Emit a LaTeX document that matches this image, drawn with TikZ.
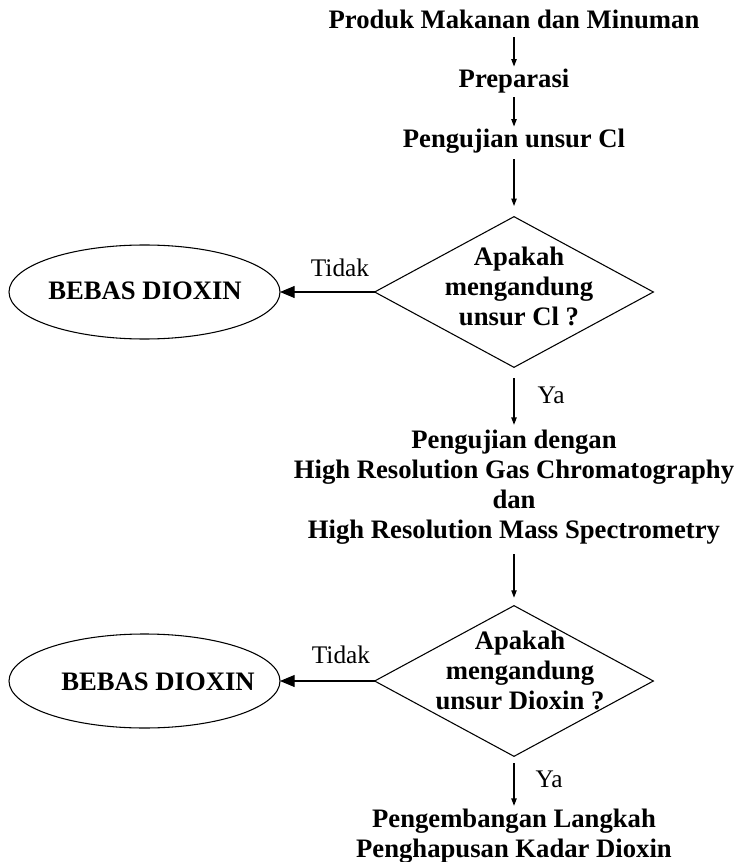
\documentclass[tikz,border=0pt]{standalone}
\usepackage{fontspec}
\setmainfont{Liberation Serif}
\usetikzlibrary{arrows.meta,shapes.geometric}
\begin{document}
\begin{tikzpicture}[x=0.75pt,y=-0.75pt,
  lbl/.style={font=\fontsize{20}{22.5}\selectfont\bfseries, inner sep=0pt, outer sep=0pt, align=center},
  note/.style={font=\fontsize{19}{22}\selectfont, inner sep=0pt},
  dia/.style={draw, diamond, minimum width=209pt, minimum height=113pt, inner sep=0pt, outer sep=0pt, line width=0.8pt},
  ell/.style={draw, ellipse, minimum width=203.25pt, minimum height=70.5pt, inner sep=0pt, outer sep=0pt, line width=0.8pt},
  arr/.style={-{Triangle[length=5.5pt,width=4pt]}, line width=0.8pt},
  bigarr/.style={-{Triangle[length=11pt,width=9pt]}, line width=0.8pt}]
\useasboundingbox (0,0) rectangle (740,862);

\node[lbl, anchor=base] (p1) at (514,29) {Produk Makanan dan Minuman};
\node[lbl, anchor=base] (p2) at (514,88) {Preparasi};
\node[lbl, anchor=base] (p3) at (514,148) {Pengujian unsur Cl};

\node[dia] (d1) at (514,292) {};
\node[lbl] (d1t) at (519,286) {Apakah\\mengandung\\unsur Cl ?};
\node[ell] (e1) at (144.5,292) {};
\node[lbl, anchor=base] (e1t) at (145,300) {BEBAS DIOXIN};
\node[note, anchor=base] (t1) at (340,277) {Tidak};
\node[note, anchor=base] (y1) at (551,403) {Ya};

\node[lbl] (p4) at (514,487) {Pengujian dengan\\High Resolution Gas Chromatography\\dan\\High Resolution Mass Spectrometry};

\node[dia] (d2) at (514,681) {};
\node[lbl] (d2t) at (520,670) {Apakah\\mengandung\\unsur Dioxin ?};
\node[ell] (e2) at (144.5,681) {};
\node[lbl, anchor=base] (e2t) at (158,690) {BEBAS DIOXIN};
\node[note, anchor=base] (t2) at (341,663) {Tidak};
\node[note, anchor=base] (y2) at (549,787) {Ya};

\node[lbl] (p5) at (514,836) {Pengembangan Langkah\\Penghapusan Kadar Dioxin};

\draw[arr, shorten <=6pt, shorten >=2.25pt] (p1) -- (p2);
\draw[arr, shorten <=2.5pt, shorten >=2.25pt] (p2) -- (p3);
\draw[arr, shorten <=4pt, shorten >=8pt] (p3) -- (d1);
\draw[arr, shorten <=8pt, shorten >=3.75pt] (d1.south) -- (p4);
\draw[arr, shorten <=7.5pt, shorten >=6pt] (p4) -- (d2);
\draw[arr, shorten <=5pt, shorten >=2.25pt] (d2.south) -- (p5);
\draw[bigarr] (d1.west) -- (e1.east);
\draw[bigarr] (d2.west) -- (e2.east);
\end{tikzpicture}
\end{document}
